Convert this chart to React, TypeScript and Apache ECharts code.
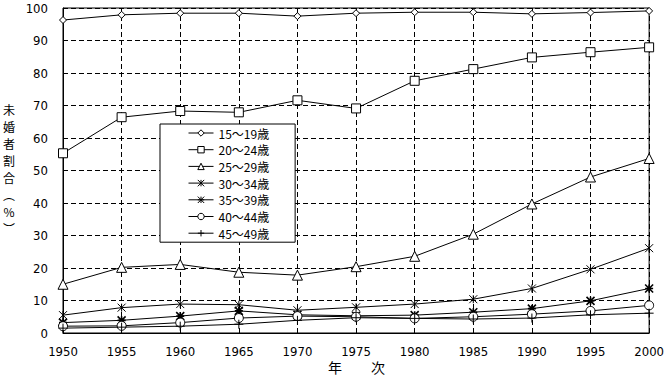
import React, { useEffect, useRef } from "react";
import * as echarts from "echarts";

const years = ["1950", "1955", "1960", "1965", "1970", "1975", "1980", "1985", "1990", "1995", "2000"];
const yTicks = [0, 10, 20, 30, 40, 50, 60, 70, 80, 90, 100];

const age15_19 = [96.3, 97.9, 98.4, 98.4, 97.5, 98.4, 98.7, 98.7, 98.2, 98.6, 99.1];
const age20_24 = [55.3, 66.4, 68.3, 67.9, 71.6, 69.1, 77.6, 81.2, 84.8, 86.4, 87.9];
const age25_29 = [15.0, 20.2, 21.1, 18.7, 17.8, 20.4, 23.6, 30.4, 39.7, 48.0, 53.7];
const age30_34 = [5.5, 7.8, 8.9, 8.7, 7.0, 7.9, 8.9, 10.4, 13.7, 19.6, 26.1];
const age35_39 = [3.2, 3.9, 5.2, 6.8, 5.6, 5.3, 5.5, 6.4, 7.5, 9.9, 13.7];
const age40_44 = [2.1, 2.2, 3.2, 4.6, 5.2, 5.0, 4.5, 5.0, 5.8, 6.8, 8.5];
const age45_49 = [1.5, 1.8, 2.1, 2.7, 3.9, 4.7, 4.5, 4.3, 4.6, 5.6, 6.1];

const seriesNames = ["15～19歳", "20～24歳", "25～29歳", "30～34歳", "35～39歳", "40～44歳", "45～49歳"];
const yTitleChars = ["未", "婚", "者", "割", "合", "︵", "%", "︶"];

export default function App() {
  const ref = useRef<HTMLDivElement>(null);
  useEffect(() => {
    if (!ref.current) return;
    const chart = echarts.init(ref.current, null, { renderer: "svg" });
    const numFont = "'Liberation Sans Narrow', 'DejaVu Sans Condensed', 'Liberation Sans', sans-serif";
    const jpFont = "'Noto Sans CJK JP', sans-serif";
    const mk = (name: string, data: number[], symbol: string, size: number, fill: string, bw = 1) => ({
      name,
      type: "line",
      data,
      symbol,
      symbolSize: size,
      showAllSymbol: true,
      lineStyle: { color: "#000", width: 1 },
      itemStyle: { color: fill, borderColor: "#000", borderWidth: bw },
      emphasis: { disabled: true },
    });
    chart.setOption({
      animation: false,
      backgroundColor: "#fff",
      grid: {
        left: 63,
        top: 8,
        width: 588,
        height: 325,
        show: true,
        borderColor: "#000",
        borderWidth: 1,
        backgroundColor: "transparent",
      },
      legend: {
        left: 160,
        top: 124,
        orient: "vertical",
        backgroundColor: "#fff",
        borderColor: "#000",
        borderWidth: 1,
        padding: [3, 26, 3, 28],
        itemWidth: 25,
        itemHeight: 8,
        itemGap: 4.7,
        itemStyle: { borderWidth: 1 },
        lineStyle: { width: 1 },
        textStyle: { fontSize: 12, lineHeight: 12, color: "#000", fontFamily: jpFont },
        data: seriesNames,
      },
      xAxis: {
        type: "category",
        data: years,
        boundaryGap: false,
        axisLine: { lineStyle: { color: "#000", width: 1 } },
        axisTick: { show: false },
        axisLabel: { color: "#000", fontSize: 13, margin: 12, fontFamily: numFont },
        splitLine: { show: true, lineStyle: { color: "#000", type: [5, 3], width: 1 } },
      },
      yAxis: {
        type: "value",
        min: yTicks[0],
        max: yTicks[yTicks.length - 1],
        interval: 10,
        axisLine: { show: true, lineStyle: { color: "#000", width: 1 } },
        axisTick: { show: false },
        axisLabel: { color: "#000", fontSize: 13, margin: 15, fontFamily: numFont },
        splitLine: { show: true, lineStyle: { color: "#000", type: [5, 3], width: 1 } },
      },
      graphic: [
        ...yTitleChars.map((ch, i) => ({
          type: "text",
          x: 9,
          y: 109 + i * 17,
          style: {
            text: ch,
            fontSize: 12,
            fill: "#000",
            fontFamily: jpFont,
            align: "center",
            verticalAlign: "middle",
          },
        })),
        {
          type: "text",
          left: 328,
          top: 360,
          style: { text: "年", fontSize: 14, fill: "#000", fontFamily: jpFont },
        },
        {
          type: "text",
          left: 371,
          top: 360,
          style: { text: "次", fontSize: 14, fill: "#000", fontFamily: jpFont },
        },
      ],
      series: [
        mk(seriesNames[0], age15_19, "diamond", 7, "#fff"),
        mk(seriesNames[1], age20_24, "rect", 9, "#fff"),
        mk(seriesNames[2], age25_29, "triangle", 10, "#fff"),
        mk(seriesNames[3], age30_34, "path://M0,0L10,10M10,0L0,10M5,0L5,10", 8, "#000"),
        mk(seriesNames[4], age35_39, "path://M0,0L10,10M10,0L0,10M5,0L5,10M0,5L10,5", 8, "#000", 1.6),
        mk(seriesNames[5], age40_44, "circle", 9, "#fff"),
        mk(seriesNames[6], age45_49, "path://M5,0L5,10M0,5L10,5", 9, "#000"),
      ],
    });
    return () => chart.dispose();
  }, []);
  return <div ref={ref} style={{ position: "fixed", left: 0, top: 0, width: 667, height: 378 }} />;
}
